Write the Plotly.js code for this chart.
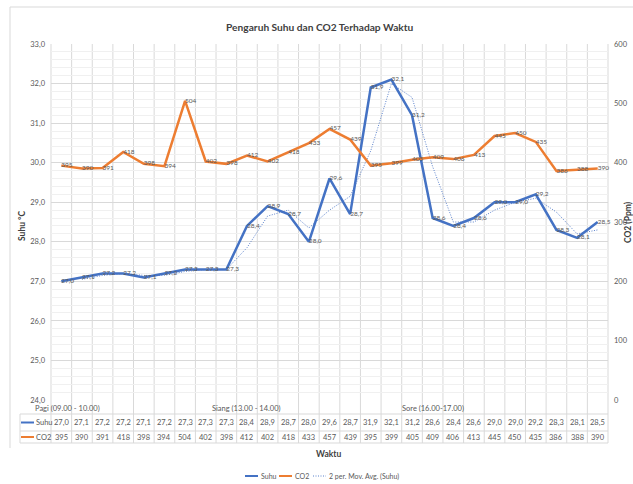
<!DOCTYPE html>
<html>
<head>
<meta charset="utf-8">
<script src="https://cdn.plot.ly/plotly-3.0.1.min.js"></script>
<style>html,body{margin:0;padding:0;background:#fff;}#chart{width:633px;height:484px;}</style>
</head>
<body>
<div id="chart"></div>
<script>
const categories = ['Pagi (09.00 - 10.00)','','','','','','','','','Siang (13.00 - 14.00)','','','','','','','','','Sore (16.00-17.00)','','','','','','','',''];
const suhu = [27.0,27.1,27.2,27.2,27.1,27.2,27.3,27.3,27.3,28.4,28.9,28.7,28.0,29.6,28.7,31.9,32.1,31.2,28.6,28.4,28.6,29.0,29.0,29.2,28.3,28.1,28.5];
const co2 = [395,390,391,418,398,394,504,402,398,412,402,418,433,457,439,395,399,405,409,406,413,445,450,435,386,388,390];
const seriesNames = ['Suhu','CO2','2 per. Mov. Avg. (Suhu)'];

const W=633,H=484,ML=51,MR=25,MT=44,MB=84;
const PW=W-ML-MR, PH=H-MT-MB;
const px=x=>(x-ML)/PW, py=y=>(H-MB-y)/PH;
const n=suhu.length;
const xs=suhu.map((_,i)=>i);
const fmt1=v=>v.toFixed(1).replace('.',',');

// 2-period moving average trendline (derived from Suhu)
const maX=[],maY=[];
for(let i=1;i<n;i++){maX.push(i);maY.push((suhu[i-1]+suhu[i])/2);}

const BLUE='#4472C4',ORANGE='#ED7D31',GRID='#d9d9d9',TXT='#595959',MA='#5b82cc';
const FONT='Lato, "Open Sans", sans-serif';

const traces=[];
traces.push({x:maX,y:maY,type:'scatter',mode:'lines',line:{color:MA,width:1,dash:'1px,1.5px'},yaxis:'y',hoverinfo:'skip'});
traces.push({x:xs,y:co2,type:'scatter',mode:'lines+text',line:{color:ORANGE,width:2.5},yaxis:'y2',
  text:co2.map(String),textposition:'middle right',textfont:{size:6.5,color:TXT,family:FONT},cliponaxis:false});
traces.push({x:xs,y:suhu,type:'scatter',mode:'lines+text',line:{color:BLUE,width:2.5},yaxis:'y',
  text:suhu.map(fmt1),textposition:'middle right',textfont:{size:6.5,color:TXT,family:FONT},cliponaxis:false});

const shapes=[],annotations=[];
// chart border
shapes.push({type:'line',xref:'paper',yref:'paper',x0:px(10),x1:px(10),y0:py(7),y1:py(448),line:{color:'#d9d9d9',width:1}});
shapes.push({type:'line',xref:'paper',yref:'paper',x0:px(10),x1:px(640),y0:py(7),y1:py(7),line:{color:'#d9d9d9',width:1}});
// vertical gridlines through plot and table
for(let k=0;k<=n;k++){
  shapes.push({type:'line',xref:'paper',yref:'paper',x0:k/n,x1:k/n,y0:py(MT),y1:py(443),line:{color:GRID,width:1},layer:'below'});
}
// table horizontal lines
[414,431,443].forEach(y=>shapes.push({type:'line',xref:'paper',yref:'paper',x0:px(20),x1:1,y0:py(y),y1:py(y),line:{color:GRID,width:1}}));
shapes.push({type:'line',xref:'paper',yref:'paper',x0:px(20),x1:px(20),y0:py(414),y1:py(443),line:{color:GRID,width:1}});
// table legend keys
shapes.push({type:'line',xref:'paper',yref:'paper',x0:px(21),x1:px(34),y0:py(422.5),y1:py(422.5),line:{color:BLUE,width:2}});
shapes.push({type:'line',xref:'paper',yref:'paper',x0:px(21),x1:px(34),y0:py(437),y1:py(437),line:{color:ORANGE,width:2}});
annotations.push({xref:'paper',yref:'paper',x:px(34),y:py(422.5),text:'Suhu',showarrow:false,xanchor:'left',yanchor:'middle',font:{size:7.5,color:TXT,family:FONT}});
annotations.push({xref:'paper',yref:'paper',x:px(34),y:py(437),text:'CO2',showarrow:false,xanchor:'left',yanchor:'middle',font:{size:7.5,color:TXT,family:FONT}});
// table values
for(let i=0;i<n;i++){
  annotations.push({xref:'x',yref:'paper',x:i,y:py(422.5),text:fmt1(suhu[i]),showarrow:false,xanchor:'center',yanchor:'middle',font:{size:7.5,color:TXT,family:FONT}});
  annotations.push({xref:'x',yref:'paper',x:i,y:py(437),text:String(co2[i]),showarrow:false,xanchor:'center',yanchor:'middle',font:{size:7.5,color:TXT,family:FONT}});
  if(categories[i]){
    const a={xref:'x',yref:'paper',x:i,y:py(408),text:categories[i],showarrow:false,xanchor:'center',yanchor:'middle',font:{size:7.5,color:TXT,family:FONT}};
    if(i===0){a.xref='paper';a.x=px(33);a.xanchor='left';}
    annotations.push(a);
  }
}
// titles
annotations.push({xref:'paper',yref:'paper',x:px(22),y:py(226),text:'<b>Suhu °C</b>',textangle:-90,showarrow:false,xanchor:'center',yanchor:'middle',font:{size:8.5,color:'#404040',family:FONT}});
annotations.push({xref:'paper',yref:'paper',x:px(628),y:py(222),text:'<b>CO2 (Ppm)</b>',textangle:-90,showarrow:false,xanchor:'center',yanchor:'middle',font:{size:8.5,color:'#404040',family:FONT}});
annotations.push({xref:'paper',yref:'paper',x:px(328),y:py(447),text:'<b>Waktu</b>',showarrow:false,xanchor:'center',yanchor:'top',font:{size:8.5,color:'#404040',family:FONT}});
// custom legend
const leg=[[245,258,BLUE,'solid',2,seriesNames[0]],[279,292,ORANGE,'solid',2,seriesNames[1]],[313,326,MA,'1px,1.5px',1,seriesNames[2]]];
leg.forEach(l=>{
  shapes.push({type:'line',xref:'paper',yref:'paper',x0:px(l[0]),x1:px(l[1]),y0:py(476),y1:py(476),line:{color:l[2],width:l[4],dash:l[3]}});
  annotations.push({xref:'paper',yref:'paper',x:px(l[1]+1),y:py(476),text:l[5],showarrow:false,xanchor:'left',yanchor:'middle',font:{size:7,color:TXT,family:FONT}});
});

const layout={
  width:W,height:H,margin:{l:ML,r:MR,t:MT,b:MB,autoexpand:false},
  paper_bgcolor:'#fff',plot_bgcolor:'#fff',showlegend:false,separators:', ',
  title:{text:'<b>Pengaruh Suhu dan CO2 Terhadap Waktu</b>',x:0.505,xanchor:'center',y:1-27/H,yanchor:'middle',font:{size:10.2,color:'#404040',family:FONT}},
  xaxis:{range:[-0.5,n-0.5],showgrid:false,zeroline:false,showticklabels:false,ticks:'',showline:false,fixedrange:true,automargin:false},
  yaxis:{range:[24,33],dtick:1,tick0:24,tickformat:'.1f',showgrid:true,gridcolor:GRID,gridwidth:1,zeroline:false,
    minor:{dtick:0.2,showgrid:true,gridcolor:'#f0f0f0',gridwidth:1},
    tickfont:{size:7.5,color:TXT,family:FONT},ticks:'',ticklabelstandoff:5,automargin:false},
  yaxis2:{range:[0,600],dtick:100,overlaying:'y',side:'right',showgrid:false,zeroline:false,
    tickfont:{size:7.5,color:TXT,family:FONT},ticks:'',ticklabelstandoff:5,automargin:false},
  shapes:shapes,annotations:annotations
};
Plotly.newPlot('chart',traces,layout,{staticPlot:true,displayModeBar:false});
</script>
</body>
</html>
